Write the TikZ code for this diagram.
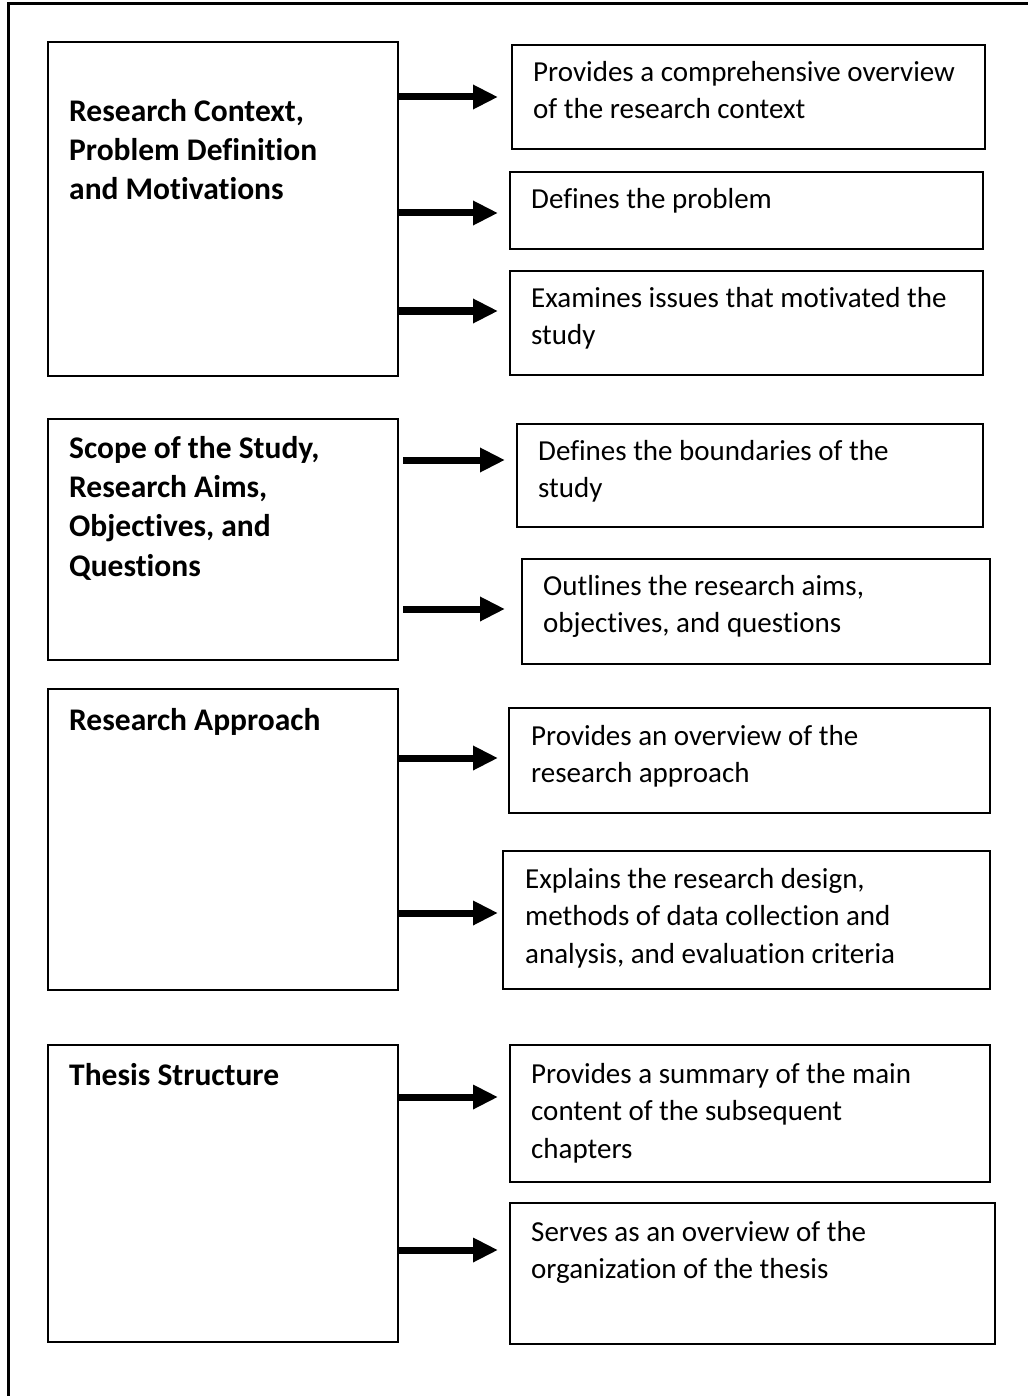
\documentclass[tikz,border=0pt]{standalone}
\usepackage{fontspec}
\setmainfont{Carlito}[Ligatures=CommonOff]
\usetikzlibrary{positioning,arrows.meta,calc}

\begin{document}
\begin{tikzpicture}[
  x=1pt, y=-1pt,
  box/.style={draw, line width=2pt, inner sep=0pt, outer sep=0pt, anchor=north west},
  head/.style={anchor=north west, inner sep=0pt, align=left, font=\fontsize{31.5}{39.3}\selectfont\bfseries},
  note/.style={anchor=north west, inner sep=0pt, align=left, font=\fontsize{29}{37.5}\selectfont},
  arr/.style={line width=7pt, -{Triangle[length=25pt,width=23pt]}},
]
\useasboundingbox (0,0) rectangle (1027,1396);
% outer frame, cut off at right and bottom
\draw[line width=3pt] (8,1400) -- (8,4) -- (1030,4);

% left column
\node[box, minimum width=350pt, minimum height=334pt] (l1) at (48,42) {};
\node[box, below=43pt of l1, minimum width=350pt, minimum height=241pt] (l2) {};
\node[box, below=29pt of l2, minimum width=350pt, minimum height=301pt] (l3) {};
\node[box, below=55pt of l3, minimum width=350pt, minimum height=297pt] (l4) {};

\node[head, below right=57pt and 21pt of l1.north west] (h1) {Research Context,\\Problem Definition\\and Motivations};
\node[head, below right=17pt and 21pt of l2.north west] (h2) {Scope of the Study,\\Research Aims,\\Objectives, and\\Questions};
\node[head, below right=19pt and 21pt of l3.north west] (h3) {Research Approach};
\node[head, below right=18pt and 21pt of l4.north west] (h4) {Thesis Structure};

% right column
\node[box, below right=3pt and 114pt of l1.north east, minimum width=473pt, minimum height=104pt] (r1a) {};
\node[box, below right=130pt and 112pt of l1.north east, minimum width=473pt, minimum height=77pt] (r1b) {};
\node[box, below right=229pt and 112pt of l1.north east, minimum width=473pt, minimum height=104pt] (r1c) {};
\node[box, below right=5pt and 119pt of l2.north east, minimum width=466pt, minimum height=103pt] (r2a) {};
\node[box, below right=140pt and 124pt of l2.north east, minimum width=468pt, minimum height=105pt] (r2b) {};
\node[box, below right=19pt and 111pt of l3.north east, minimum width=481pt, minimum height=105pt] (r3a) {};
\node[box, below right=162pt and 105pt of l3.north east, minimum width=487pt, minimum height=138pt] (r3b) {};
\node[box, below right=0pt and 112pt of l4.north east, minimum width=480pt, minimum height=137pt] (r4a) {};
\node[box, below right=158pt and 112pt of l4.north east, minimum width=485pt, minimum height=141pt] (r4b) {};

\node[note, below right=16pt and 21pt of r1a.north west] (t1a) {Provides a comprehensive overview\\of the research context};
\node[note, below right=16pt and 21pt of r1b.north west] (t1b) {Defines the problem};
\node[note, below right=16pt and 21pt of r1c.north west] (t1c) {Examines issues that motivated the\\study};
\node[note, below right=16pt and 21pt of r2a.north west] (t2a) {Defines the boundaries of the\\study};
\node[note, below right=16pt and 21pt of r2b.north west] (t2b) {Outlines the research aims,\\objectives, and questions};
\node[note, below right=17pt and 22pt of r3a.north west] (t3a) {Provides an overview of the\\research approach};
\node[note, below right=17pt and 22pt of r3b.north west] (t3b) {Explains the research design,\\methods of data collection and\\analysis, and evaluation criteria};
\node[note, below right=18pt and 21pt of r4a.north west] (t4a) {Provides a summary of the main\\content of the subsequent\\chapters};
\node[note, below right=18pt and 21pt of r4b.north west] (t4b) {Serves as an overview of the\\organization of the thesis};

% arrows
\foreach \from/\to/\ay/\sx/\gp in {l1/r1a/97/0/14, l1/r1b/213/0/12, l1/r1c/311/0/12,
    l2/r2a/460/5/12, l2/r2b/609/5/17, l3/r3a/758/0/11, l3/r3b/913/0/5,
    l4/r4a/1097/0/12, l4/r4b/1250/0/12}
  \draw[arr] ($(\from.east |- 0,\ay)+(\sx,0)$) -- ($(\to.west |- 0,\ay)+(-\gp,0)$);
\end{tikzpicture}
\end{document}
